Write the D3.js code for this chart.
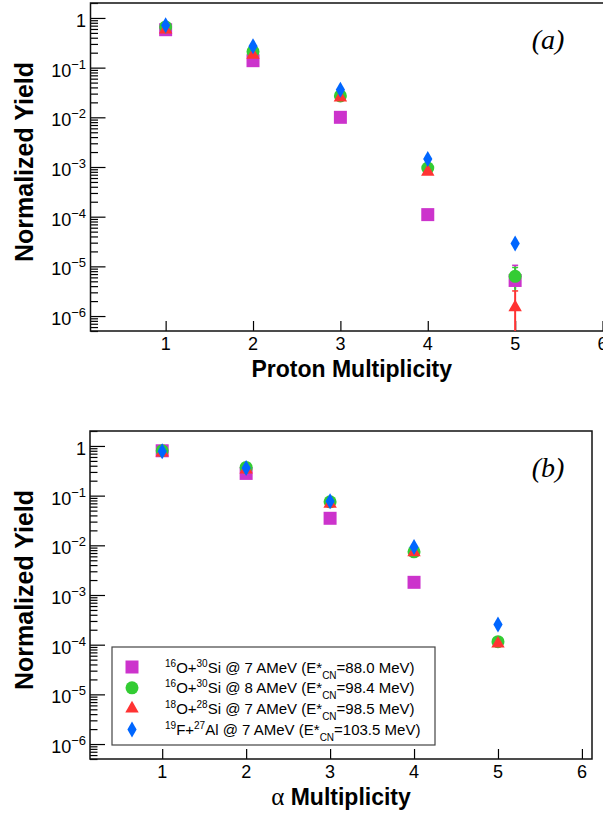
<!DOCTYPE html>
<html>
<head>
<meta charset="utf-8">
<script src="https://cdn.jsdelivr.net/npm/d3@7/dist/d3.min.js"></script>
<style>
  body { margin: 0; background: #fff; }
  text { font-family: "Liberation Sans", Arial, sans-serif; }
</style>
</head>
<body>
<svg id="chart" width="603" height="817"></svg>
<script>
// multiplicity bins and axis ticks
const multiplicity = [1, 2, 3, 4, 5];
const xTicks = [1, 2, 3, 4, 5, 6];
const yDecades = [0, -1, -2, -3, -4, -5, -6];

// legend entries (order = draw order)
const systems = [
  { a: "16", b: "O+", c: "30", d: "Si @ 7 AMeV (E*", e: "=88.0 MeV)" },
  { a: "16", b: "O+", c: "30", d: "Si @ 8 AMeV (E*", e: "=98.4 MeV)" },
  { a: "18", b: "O+", c: "28", d: "Si @ 7 AMeV (E*", e: "=98.5 MeV)" },
  { a: "19", b: "F+", c: "27", d: "Al @ 7 AMeV (E*", e: "=103.5 MeV)" }
];

// (a) proton multiplicity yields
const protonO16Si30at7 = [0.58, 0.138, 0.0100, 1.1e-4, 5.2e-6];
const protonO16Si30at8 = [0.66, 0.21, 0.027, 9.5e-4, 6.3e-6];
const protonO18Si28at7 = [0.58, 0.18, 0.025, 8.0e-4, 1.5e-6];
const protonF19Al27at7 = [0.71, 0.27, 0.036, 1.45e-3, 2.9e-5];
// error bars [low, high], only the last bin has visible ones
const protonErrO16Si30at7 = [null, null, null, null, [3.5e-6, 1.05e-5]];
const protonErrO16Si30at8 = [null, null, null, null, [3.2e-6, 9.5e-6]];
const protonErrO18Si28at7 = [null, null, null, null, [1e-7, 3.2e-6]];
const protonErrF19Al27at7 = [null, null, null, null, null];

// (b) alpha multiplicity yields
const alphaO16Si30at7 = [0.80, 0.28, 0.035, 0.0018, null];
const alphaO16Si30at8 = [0.80, 0.37, 0.075, 0.0074, 1.15e-4];
const alphaO18Si28at7 = [0.73, 0.335, 0.068, 0.0072, 1.05e-4];
const alphaF19Al27at7 = [0.78, 0.36, 0.077, 0.0093, 2.55e-4];

const colors = ["#cc33cc", "#33cc33", "#ff3333", "#0066ff"];
const shapes = [
  d3.symbol().type(d3.symbolSquare).size(169),
  d3.symbol().type(d3.symbolCircle).size(133),
  d3.symbol().type(d3.symbolTriangle).size(78),
  d3.symbol().type(d3.symbolDiamond).size(74)
];

const svg = d3.select("#chart");

function drawPanel(cfg) {
  const x = d3.scaleLinear().domain([0.14, 6.12]).range([cfg.left, cfg.right]);
  const y = d3.scaleLog().domain([5e-7, 2]).range([cfg.bottom, cfg.top]);
  const g = svg.append("g");

  // minor ticks 2..9 per decade
  const minor = [];
  yDecades.concat([-7]).forEach(p => {
    for (let k = 2; k <= 9; k++) {
      const v = k * Math.pow(10, p);
      if (v >= 5e-7 && v <= 2) minor.push(v);
    }
  });
  const minorAxis = g.append("g")
    .attr("transform", `translate(${cfg.left},0)`)
    .call(d3.axisLeft(y).tickValues(minor).tickSize(-7.5).tickFormat(""));
  const majorAxis = g.append("g")
    .attr("transform", `translate(${cfg.left},0)`)
    .call(d3.axisLeft(y).tickValues(yDecades.map(p => Math.pow(10, p))).tickSize(-15).tickFormat(""));
  const xAxis = g.append("g")
    .attr("transform", `translate(0,${cfg.bottom})`)
    .call(d3.axisBottom(x).tickValues(xTicks).tickSize(-10).tickFormat(""));
  [minorAxis, majorAxis, xAxis].forEach(a => {
    a.select(".domain").remove();
    a.selectAll("line").attr("stroke", "#000").attr("stroke-width", 1.2);
  });

  // frame
  g.append("rect")
    .attr("x", cfg.left).attr("y", cfg.top)
    .attr("width", cfg.right - cfg.left).attr("height", cfg.bottom - cfg.top)
    .attr("fill", "none").attr("stroke", "#111").attr("stroke-width", 1.5);

  // y tick labels
  yDecades.forEach(p => {
    const t = g.append("text")
      .attr("x", 86).attr("y", y(Math.pow(10, p)) + 9)
      .attr("text-anchor", "end").style("font-size", "18px");
    if (p === 0) {
      t.text("1");
    } else {
      t.append("tspan").text("10");
      t.append("tspan").attr("dy", -8).style("font-size", "13px").text("\u2212" + (-p));
    }
  });

  // x tick labels
  g.selectAll(".xlab").data(xTicks).enter().append("text")
    .attr("x", d => x(d)).attr("y", cfg.bottom + 19)
    .attr("text-anchor", "middle").style("font-size", "18px")
    .text(d => d);

  // axis titles
  g.append("text")
    .attr("transform", `translate(33,${cfg.top + 159}) rotate(-90)`)
    .attr("text-anchor", "middle")
    .style("font-size", "25px").style("font-weight", "bold")
    .text("Normalized Yield");

  const xt = g.append("text")
    .attr("x", (cfg.left + cfg.right) / 2).attr("y", cfg.bottom + 46)
    .attr("text-anchor", "middle")
    .style("font-size", "23px").style("font-weight", "bold");
  if (cfg.alpha) {
    xt.append("tspan").style("font-family", "'Liberation Serif', serif")
      .style("font-weight", "normal").style("font-size", "25px").text("\u03b1");
    xt.append("tspan").text(" Multiplicity");
  } else {
    xt.text("Proton Multiplicity");
  }

  // panel tag
  g.append("text")
    .attr("x", 548).attr("y", cfg.top + 46)
    .attr("text-anchor", "middle")
    .style("font-family", "'Liberation Serif', serif")
    .style("font-style", "italic").style("font-size", "28px")
    .text(cfg.tag);

  // error bars then markers
  const clip = v => Math.max(cfg.top, Math.min(cfg.bottom, v));
  cfg.series.forEach((vals, si) => {
    const errs = cfg.errors ? cfg.errors[si] : null;
    if (errs) {
      errs.forEach((e, i) => {
        if (!e) return;
        const cx = x(multiplicity[i]);
        g.append("line")
          .attr("x1", cx).attr("x2", cx)
          .attr("y1", clip(y(e[0]))).attr("y2", clip(y(e[1])))
          .attr("stroke", colors[si]).attr("stroke-width", 2);
        g.append("line")
          .attr("x1", cx - 3).attr("x2", cx + 3)
          .attr("y1", clip(y(e[1]))).attr("y2", clip(y(e[1])))
          .attr("stroke", colors[si]).attr("stroke-width", 1.5);
      });
    }
  });
  cfg.series.forEach((vals, si) => {
    g.selectAll(null).data(multiplicity.filter((m, i) => vals[i] != null)).enter()
      .append("path")
      .attr("d", shapes[si])
      .attr("transform", m => `translate(${x(m)},${y(vals[multiplicity.indexOf(m)])})`)
      .attr("fill", colors[si]);
  });
}

drawPanel({
  left: 90.5, right: 613, top: 3, bottom: 331, tag: "(a)", alpha: false,
  series: [protonO16Si30at7, protonO16Si30at8, protonO18Si28at7, protonF19Al27at7],
  errors: [protonErrO16Si30at7, protonErrO16Si30at8, protonErrO18Si28at7, protonErrF19Al27at7]
});

drawPanel({
  left: 90, right: 592, top: 431, bottom: 759, tag: "(b)", alpha: true,
  series: [alphaO16Si30at7, alphaO16Si30at8, alphaO18Si28at7, alphaF19Al27at7],
  errors: null
});

// legend for panel (b)
const legend = svg.append("g");
legend.append("rect")
  .attr("x", 112).attr("y", 647).attr("width", 323).attr("height", 98)
  .attr("fill", "#fff").attr("stroke", "#444").attr("stroke-width", 1.2);
systems.forEach((s, i) => {
  const ry = 667 + i * 20.8;
  legend.append("path")
    .attr("d", shapes[i]).attr("transform", `translate(132,${ry})`)
    .attr("fill", colors[i]);
  const t = legend.append("text")
    .attr("x", 165).attr("y", ry + 5.5).style("font-size", "15px");
  t.append("tspan").attr("dy", -6).style("font-size", "10px").text(s.a);
  t.append("tspan").attr("dy", 6).text(s.b);
  t.append("tspan").attr("dy", -6).style("font-size", "10px").text(s.c);
  t.append("tspan").attr("dy", 6).text(s.d);
  t.append("tspan").attr("dy", 6).style("font-size", "10px").text("CN");
  t.append("tspan").attr("dy", -6).text(s.e);
});
</script>
</body>
</html>
